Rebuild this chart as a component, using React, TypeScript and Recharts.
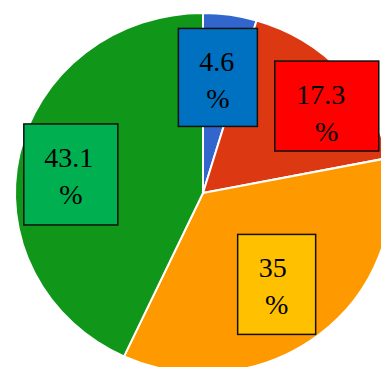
import { PieChart, Pie, Cell } from "recharts";

const segments = ["Segment A", "Segment B", "Segment C", "Segment D"];
const shares = [4.6, 17.3, 35, 43.1];
const sliceColors = ["#3366CC", "#DC3912", "#FF9900", "#109618"];
const boxColors = ["#0070C0", "#FF0000", "#FFC000", "#00B050"];

// callout boxes: size and nudge from the default anchor
const boxLayout = [
  { w: 79, h: 98, dx: -3, dy: 2, tx: -1 },
  { w: 104, h: 90, dx: 32, dy: -7, tx: -6 },
  { w: 78, h: 100, dx: -3, dy: -2, tx: -4 },
  { w: 94, h: 101, dx: -11, dy: 7, tx: -2 },
];

const data = segments.map((name, i) => ({ name, value: shares[i] }));

// the pie is drawn slightly wider than tall
const X_STRETCH = 188 / 180;
const LABEL_RADIUS = 0.66;

const toXY = (cx: number, cy: number, rx: number, ry: number, deg: number) => {
  const a = (deg * Math.PI) / 180;
  return [cx + rx * Math.cos(a), cy - ry * Math.sin(a)];
};

function OvalSector(props: any) {
  const { cx, cy, startAngle, endAngle, outerRadius, fill } = props;
  const ry = outerRadius;
  const rx = outerRadius * X_STRETCH;
  const [x0, y0] = toXY(cx, cy, rx, ry, startAngle);
  const [x1, y1] = toXY(cx, cy, rx, ry, endAngle);
  const large = Math.abs(startAngle - endAngle) > 180 ? 1 : 0;
  const sweep = startAngle > endAngle ? 1 : 0;
  return (
    <path
      d={`M${cx},${cy}L${x0},${y0}A${rx},${ry} 0 ${large} ${sweep} ${x1},${y1}Z`}
      fill={fill}
      stroke="#ffffff"
      strokeWidth={2}
      strokeLinejoin="round"
    />
  );
}

function BoxLabel(props: any) {
  const { cx, cy, midAngle, outerRadius, index, value } = props;
  const box = boxLayout[index];
  const [ax, ay] = toXY(
    cx, cy,
    outerRadius * X_STRETCH * LABEL_RADIUS,
    outerRadius * LABEL_RADIUS,
    midAngle
  );
  const mx = ax + box.dx;
  const my = ay + box.dy;
  const left = mx - box.w / 2;
  const top = my - box.h / 2;
  return (
    <g>
      <rect
        x={left}
        y={top}
        width={box.w}
        height={box.h}
        fill={boxColors[index]}
        stroke="#111"
        strokeWidth={1.5}
      />
      <text
        x={mx + box.tx}
        y={top + 43}
        textAnchor="middle"
        fontFamily="'Liberation Serif', serif"
        fontSize={28}
        fill="#000"
      >
        {value}
      </text>
      <text
        x={mx}
        y={top + 80}
        textAnchor="middle"
        fontFamily="'Liberation Serif', serif"
        fontSize={28}
        fill="#000"
      >
        %
      </text>
    </g>
  );
}

export default function App() {
  return (
    <div style={{ position: "fixed", left: 0, top: 0, width: 381, height: 367, overflow: "hidden", background: "#fff" }}>
      <PieChart width={381} height={367} margin={{ top: 0, right: 0, bottom: 0, left: 0 }}>
        <Pie
          data={data}
          dataKey="value"
          nameKey="name"
          cx={203}
          cy={193}
          outerRadius={180}
          startAngle={90}
          endAngle={-270}
          stroke="#ffffff"
          shape={OvalSector}
          activeShape={OvalSector}
          label={BoxLabel}
          labelLine={false}
          isAnimationActive={false}
        >
          {data.map((d, i) => (
            <Cell key={d.name} fill={sliceColors[i]} />
          ))}
        </Pie>
      </PieChart>
    </div>
  );
}
